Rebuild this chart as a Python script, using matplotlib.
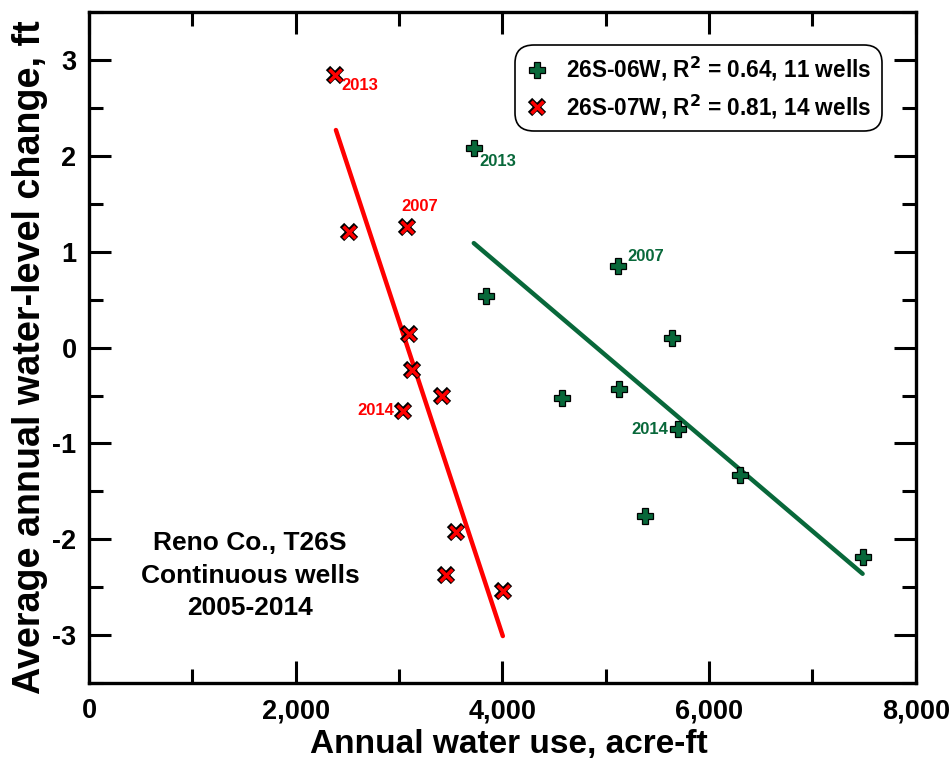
import matplotlib
matplotlib.use("Agg")
import matplotlib.pyplot as plt
from matplotlib.ticker import FuncFormatter, MultipleLocator
from matplotlib.lines import Line2D
from matplotlib.legend_handler import HandlerTuple

plt.rcParams['font.family'] = ['Liberation Sans', 'DejaVu Sans']
plt.rcParams['font.weight'] = 'bold'

# ---- data ----
w06_use = [3723, 3839, 5116, 5638, 5126, 4574, 5696, 6296, 5377, 7485]
w06_chg = [2.08, 0.54, 0.85, 0.10, -0.43, -0.53, -0.85, -1.33, -1.76, -2.18]
w07_use = [2379, 2515, 3075, 3095, 3124, 3414, 3037, 3549, 3453, 4004]
w07_chg = [2.84, 1.21, 1.26, 0.14, -0.23, -0.50, -0.66, -1.92, -2.37, -2.54]
fit06_x = [3723, 7485]
fit06_y = [1.09, -2.36]
fit07_x = [2389, 4004]
fit07_y = [2.27, -3.01]
lab06 = {0: '2013', 2: '2007', 6: '2014'}
lab07 = {0: '2013', 2: '2007', 6: '2014'}
legend_labels = ['26S-06W, R$^{\\mathbf{2}}$ = 0.64, 11 wells',
                 '26S-07W, R$^{\\mathbf{2}}$ = 0.81, 14 wells']
xticks = [0, 2000, 4000, 6000, 8000]
yticks = [-3, -2, -1, 0, 1, 2, 3]

GREEN = '#08683a'
RED = '#ff0000'

fig = plt.figure(figsize=(9.52, 7.59), dpi=100)
ax = fig.add_axes([0.0935, 0.1001, 0.8685, 0.8839])

ax.plot(fit07_x, fit07_y, color=RED, lw=3.2, solid_capstyle='round', zorder=2)
ax.plot(fit06_x, fit06_y, color=GREEN, lw=3.2, solid_capstyle='round', zorder=2)

P_STYLE = dict(ls='none', marker='P', ms=11, mfc=GREEN, mec='black', mew=0.9)
X_BACK = dict(ls='none', marker='x', ms=10.2, mec='black', mew=4.4)
X_FRONT = dict(ls='none', marker='x', ms=9.3, mec=RED, mew=2.5)

ax.plot(w06_use, w06_chg, zorder=3, **P_STYLE)
ax.plot(w07_use, w07_chg, zorder=3, **X_BACK)
ax.plot(w07_use, w07_chg, zorder=4, **X_FRONT)

# year annotations
off06 = {0: ((4, -4), 'left', 'top'), 2: ((7, 7), 'left', 'center'), 6: ((-7, 0), 'right', 'center')}
off07 = {0: ((5, -2), 'left', 'top'), 2: ((9, 9), 'center', 'bottom'), 6: ((-6, 0), 'right', 'center')}
for i, t in lab06.items():
    (dx, dy), ha, va = off06[i]
    ax.annotate(t, (w06_use[i], w06_chg[i]), xytext=(dx, dy), textcoords='offset points',
                ha=ha, va=va, color=GREEN, fontsize=12, fontweight='bold')
for i, t in lab07.items():
    (dx, dy), ha, va = off07[i]
    ax.annotate(t, (w07_use[i], w07_chg[i]), xytext=(dx, dy), textcoords='offset points',
                ha=ha, va=va, color=RED, fontsize=12, fontweight='bold')

ax.text(0.195, 0.16, 'Reno Co., T26S\nContinuous wells\n2005-2014', transform=ax.transAxes,
        ha='center', va='center', fontsize=19, fontweight='bold', linespacing=1.45)

ax.set_xlim(0, 8000)
ax.set_ylim(-3.5, 3.5)
ax.set_xticks(xticks)
ax.set_yticks(yticks)
ax.xaxis.set_minor_locator(MultipleLocator(1000))
ax.yaxis.set_minor_locator(MultipleLocator(0.5))
ax.xaxis.set_major_formatter(FuncFormatter(lambda v, p: f'{int(v):,}'))
ax.yaxis.set_major_formatter(FuncFormatter(lambda v, p: f'{int(v)}'))
ax.tick_params(which='both', direction='in', top=True, right=True, width=2.2, labelsize=19.5)
ax.tick_params(which='major', length=16)
ax.tick_params(axis='x', which='major', pad=11)
ax.tick_params(axis='y', which='major', pad=9)
ax.tick_params(which='minor', length=10)
for s in ax.spines.values():
    s.set_linewidth(2.4)
for lab in ax.get_xticklabels() + ax.get_yticklabels():
    lab.set_fontweight('bold')

ax.set_xlabel('Annual water use, acre-ft', fontsize=24, fontweight='bold')
ax.set_ylabel('Average annual water-level change, ft', fontsize=27.2, fontweight='bold')
ax.xaxis.set_label_coords(0.508, -0.068)
ax.yaxis.set_label_coords(-0.050, 0.486)

h06 = Line2D([], [], **P_STYLE)
h07 = (Line2D([], [], **X_BACK), Line2D([], [], **X_FRONT))
leg = ax.legend([h06, h07], legend_labels, loc='upper right', bbox_to_anchor=(0.959, 0.951),
                borderaxespad=0, fontsize=16.3, fancybox=True, framealpha=1, edgecolor='black',
                handlelength=1.0, handletextpad=0.8, borderpad=0.45, labelspacing=0.4,
                handler_map={tuple: HandlerTuple(ndivide=1)})
leg.get_frame().set_linewidth(1.2)
leg.get_frame().set_boxstyle('round', pad=0, rounding_size=0.8)
for t in leg.get_texts():
    t.set_fontweight('bold')

fig.savefig('out.png', dpi=100)
